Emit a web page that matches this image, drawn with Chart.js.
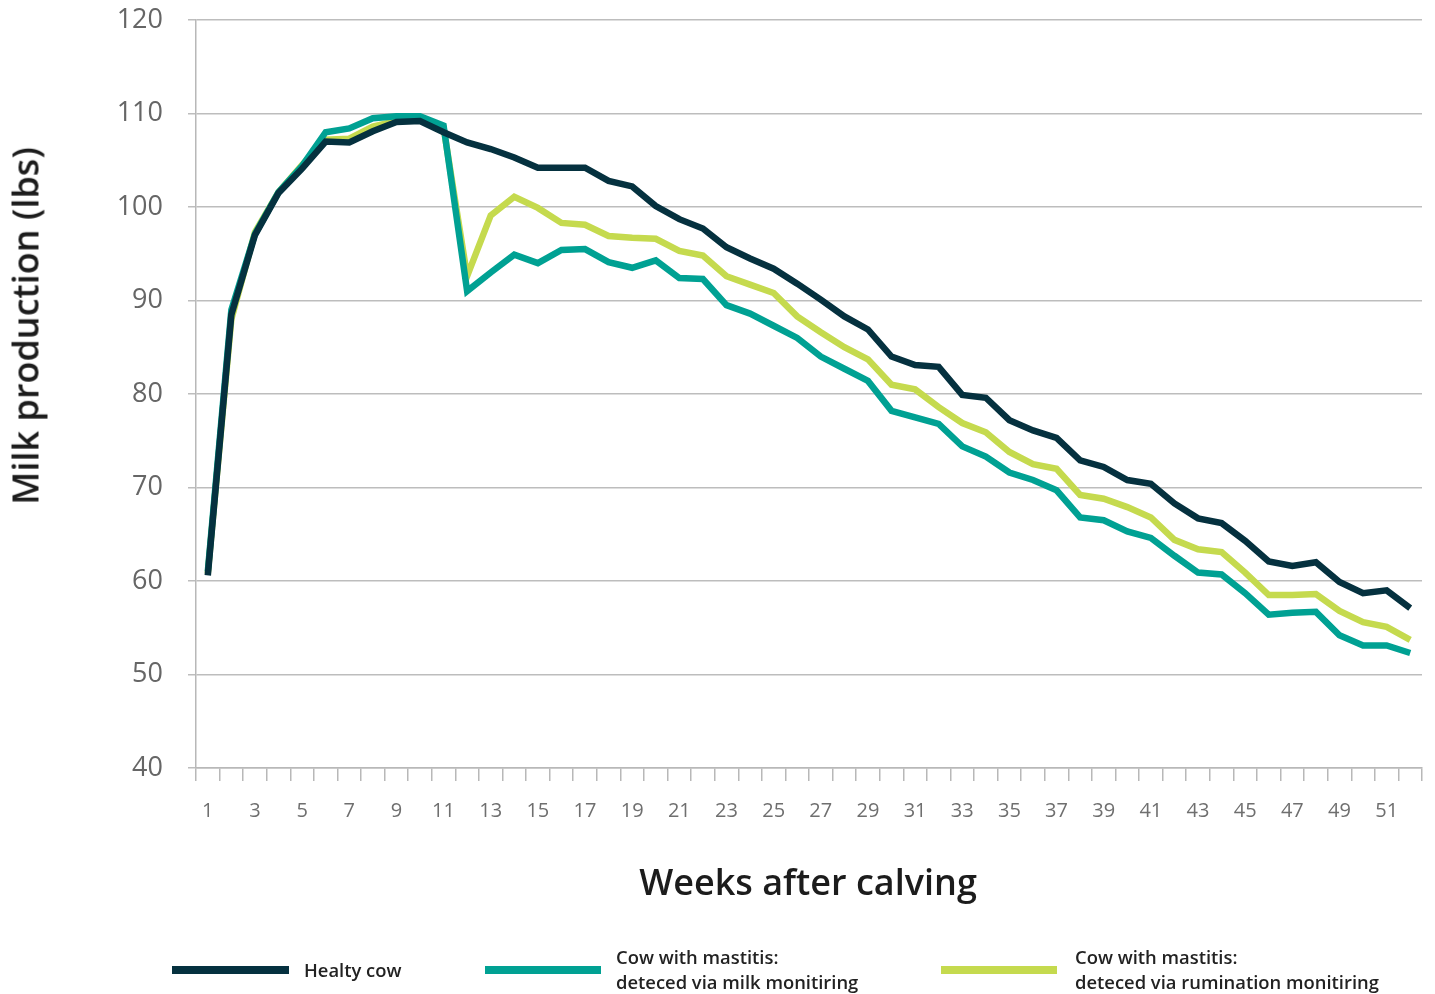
<!DOCTYPE html>
<html>
<head>
<meta charset="utf-8">
<script src="https://cdn.jsdelivr.net/npm/chart.js@4.4.1/dist/chart.umd.min.js"></script>
<style>
  html, body { margin: 0; padding: 0; background: #ffffff; }
  #wrap { position: relative; width: 1435px; height: 994px; overflow: hidden; }
  #wrap canvas { position: absolute; left: 0; top: 0; }
  .ytitle { position: absolute; left: 25px; top: 326px; transform: translate(-50%, -50%) rotate(-90deg);
            font-family: "Open Sans", sans-serif; font-weight: 600; font-size: 36px; color: #1c1c1c; white-space: nowrap; }
  .xtitle { position: absolute; left: 808px; top: 881px; transform: translate(-50%, -50%);
            font-family: "Open Sans", sans-serif; font-weight: 600; font-size: 36px; color: #1c1c1c; white-space: nowrap; }
  .lg-line { position: absolute; height: 8px; top: 966px; }
  .lg-text { position: absolute; font-family: "Open Sans", sans-serif; font-weight: 600; font-size: 18.4px; color: #222; line-height: 25px; white-space: nowrap; }
</style>
</head>
<body>
<div id="wrap">
  <canvas id="c" width="1435" height="994"></canvas>
  <div class="ytitle">Milk production (lbs)</div>
  <div class="xtitle">Weeks after calving</div>
  <div class="lg-line" style="left:172px;width:117px;background:#05313f"></div>
  <div class="lg-text" style="left:304px;top:957px">Healty cow</div>
  <div class="lg-line" style="left:485px;width:116px;background:#00a193"></div>
  <div class="lg-text" style="left:616px;top:944px">Cow with mastitis:<br>deteced via milk monitiring</div>
  <div class="lg-line" style="left:941px;width:116px;background:#c5da4e"></div>
  <div class="lg-text" style="left:1075px;top:944px">Cow with mastitis:<br>deteced via rumination monitiring</div>
</div>
<script>
const weeks = Array.from({length: 52}, (_, i) => String(i + 1));
const yTicks = [40, 50, 60, 70, 80, 90, 100, 110, 120];

const healthy = [60.6, 88.5, 97.0, 101.5, 104.1, 107.0, 106.9, 108.1, 109.1, 109.2,
  108.0, 106.9, 106.2, 105.3, 104.2, 104.2, 104.2, 102.8, 102.2, 100.1,
  98.7, 97.7, 95.7, 94.5, 93.4, 91.8, 90.1, 88.3, 86.9, 84.0,
  83.1, 82.9, 79.9, 79.6, 77.2, 76.1, 75.3, 72.9, 72.2, 70.8,
  70.4, 68.3, 66.7, 66.2, 64.3, 62.1, 61.6, 62.0, 59.9, 58.7,
  59.0, 57.1];

const milkMonitoring = [61.0, 89.0, 97.1, 101.6, 104.4, 108.0, 108.4, 109.5, 109.7, 109.7,
  108.7, 91.0, 93.0, 94.9, 94.0, 95.4, 95.5, 94.1, 93.5, 94.3,
  92.4, 92.3, 89.5, 88.6, 87.3, 86.0, 84.0, 82.7, 81.4, 78.2,
  77.5, 76.8, 74.4, 73.3, 71.6, 70.8, 69.7, 66.8, 66.5, 65.3,
  64.6, 62.7, 60.9, 60.7, 58.7, 56.4, 56.6, 56.7, 54.2, 53.1,
  53.1, 52.3];

const ruminationMonitoring = [60.8, 88.0, 97.3, 101.6, 104.5, 107.2, 107.3, 108.6, 109.2, 109.3,
  108.5, 92.6, 99.1, 101.1, 99.9, 98.3, 98.1, 96.9, 96.7, 96.6,
  95.3, 94.8, 92.6, 91.7, 90.8, 88.3, 86.6, 85.0, 83.7, 81.0,
  80.5, 78.6, 76.9, 75.9, 73.8, 72.5, 72.0, 69.2, 68.8, 67.9,
  66.8, 64.4, 63.4, 63.1, 60.9, 58.5, 58.5, 58.6, 56.8, 55.6,
  55.1, 53.7];

const ds = (label, data, color) => ({
  label, data, borderColor: color, backgroundColor: color,
  borderWidth: 6.5, pointRadius: 0, tension: 0, fill: false,
  borderJoinStyle: 'miter', borderCapStyle: 'butt'
});

new Chart(document.getElementById('c'), {
  type: 'line',
  data: {
    labels: weeks,
    datasets: [
      ds('Healty cow', healthy, '#05313f'),
      ds('Cow with mastitis: deteced via milk monitiring', milkMonitoring, '#00a193'),
      ds('Cow with mastitis: deteced via rumination monitiring', ruminationMonitoring, '#c5da4e')
    ]
  },
  options: {
    responsive: false,
    animation: false,
    layout: { padding: { top: 0, right: 13, left: 0, bottom: 0 } },
    plugins: { legend: { display: false }, tooltip: { enabled: false } },
    scales: {
      x: {
        type: 'category',
        offset: true,
        grid: { offset: true, drawOnChartArea: false, drawTicks: true, tickLength: 13, color: '#b8b8b8', lineWidth: 1.5 },
        border: { display: true, color: '#b8b8b8', width: 1.5 },
        ticks: {
          autoSkip: false, maxRotation: 0, padding: 18, color: '#6f6f6f',
          font: { family: 'Open Sans', size: 20 },
          callback: function (v, i) { const w = Number(weeks[i]); return w % 2 === 1 ? weeks[i] : ''; }
        },
        afterFit: s => { s.height = 226; }
      },
      y: {
        min: 40, max: 120,
        afterBuildTicks: s => { s.ticks = yTicks.map(v => ({ value: v })); },
        grid: { color: '#bdbdbd', lineWidth: 1.5, drawTicks: true, tickLength: 8 },
        border: { display: true, color: '#b8b8b8', width: 1.5 },
        ticks: { padding: 25, color: '#666666', font: { family: 'Open Sans', size: 27 } },
        afterFit: s => { s.width = 196; s.paddingTop = 20; s.paddingBottom = 20; }
      }
    }
  }
});
</script>
</body>
</html>
